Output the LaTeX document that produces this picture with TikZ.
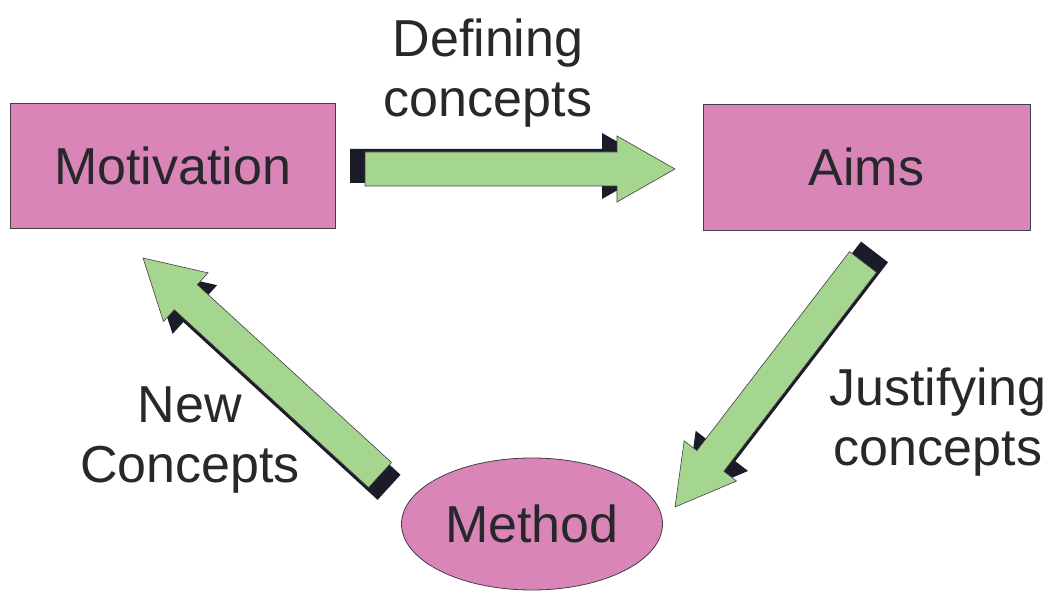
\documentclass[tikz,border=0pt]{standalone}
\usepackage{fontspec}
\setmainfont{Liberation Sans}
\usetikzlibrary{shapes.geometric,calc}
\definecolor{boxpink}{RGB}{217,133,184}
\definecolor{arrowgreen}{RGB}{165,214,143}
\definecolor{shadowc}{RGB}{28,28,40}
\definecolor{edgec}{RGB}{70,60,70}
\definecolor{textc}{RGB}{40,40,44}
\tikzset{
  boxstyle/.style={draw=edgec, line width=0.8pt, fill=boxpink, text=textc, inner sep=0pt},
  labelstyle/.style={text=textc, align=center, inner sep=0pt},
  pics/blockarrow/.style={code={
    \fill[shadowc] (-15,3) -- ++(0,-17) -- ++({#1-58},0) -- ++(0,-16) -- ++(58,33) -- ++(-58,33) -- ++(0,-16) -- ++({-(#1-58)},0) -- cycle;
    \filldraw[fill=arrowgreen, draw=edgec, line width=0.6pt]
      (0,-17) -- ({#1-58},-17) -- ({#1-58},-33) -- (#1,0) -- ({#1-58},33) -- ({#1-58},17) -- (0,17) -- cycle;
  }}
}
\begin{document}
\begin{tikzpicture}[x=1pt,y=1pt,font=\fontsize{52}{60}\selectfont]
\useasboundingbox (0,0) rectangle (1057,592);
% nodes
\node[boxstyle, minimum width=325, minimum height=125] (mot) at (172.5,426.5) {Motivation};
\node[boxstyle, minimum width=327, minimum height=126] (aims) at (866.5,425) {Aims};
\node[boxstyle, ellipse, minimum width=261, minimum height=132] (meth) at (532,68) {Method};
% labels
\node[labelstyle] (ldef) at (488,519) {Defining\\concepts};
\node[labelstyle] (ljus) at (938,170) {Justifying\\concepts};
\node[labelstyle] (lnew) at (190,152) {New\\Concepts};
% arrow end points
\coordinate (a1s) at (365,423);
\coordinate (a1e) at (675,423);
\coordinate (a2s) at (863,330);
\coordinate (a2e) at (675,85);
\coordinate (a3s) at (380,117);
\coordinate (a3e) at (143,334);
% arrows
\foreach \s/\e in {a1s/a1e, a2s/a2e, a3s/a3e}{
  \path let \p1=($(\e)-(\s)$), \n1={atan2(\y1,\x1)}, \n2={veclen(\x1,\y1)} in
    pic[rotate=\n1] at (\s) {blockarrow=\n2};
}
\end{tikzpicture}
\end{document}
